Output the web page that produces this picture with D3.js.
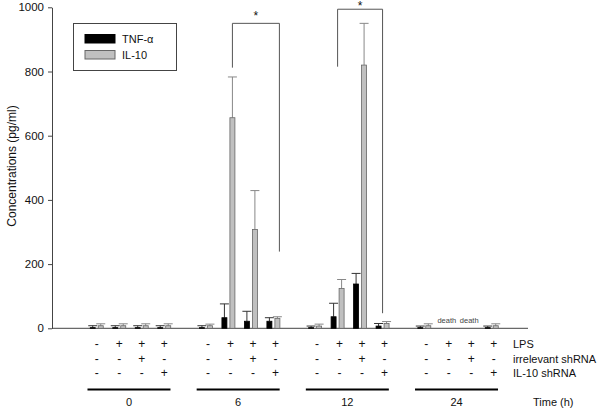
<!DOCTYPE html>
<html><head><meta charset="utf-8">
<script src="https://cdn.jsdelivr.net/npm/d3@7"></script>
<style>body{margin:0;background:#fff}svg{font-family:"Liberation Sans",Arial,sans-serif}</style>
</head><body><svg id="c" width="600" height="410"></svg>
<script>
const groups = ["0", "6", "12", "24"];
const subs = [0, 1, 2, 3];
const rowLabels = ["LPS", "irrelevant shRNA", "IL-10 shRNA"];
const lpsSigns = ["-", "+", "+", "+"];
const irrSigns = ["-", "-", "+", "-"];
const il10Signs = ["-", "-", "-", "+"];
const tnf     = [[2, 2, 2, 2], [2, 33, 22, 22], [2, 36, 138, 7], [2, null, null, 2]];
const tnfErr  = [[6, 6, 6, 6], [6, 43, 31, 11], [5, 42, 33, 8], [5, null, null, 5]];
const il10    = [[8, 8, 8, 8], [8, 656, 308, 31], [7, 124, 820, 15], [8, null, null, 8]];
const il10Err = [[6, 6, 6, 6], [5, 127, 121, 5], [6, 28, 130, 6], [6, null, null, 6]];
const deathLabel = "death";
const yTicks = [0, 200, 400, 600, 800, 1000];
const brackets = [
  {g: 1, from: 1, to: 3, top: 950, leftEnd: 812, rightEnd: 239, star: 981, anchor: "il10"},
  {g: 2, from: 1, to: 3, top: 994, leftEnd: 815, rightEnd: 47, star: 1012, anchor: "pair"}
];

const svg = d3.select("#c");
const y = d3.scaleLinear().domain([0, 1000]).range([328.3, 7.3]);
const xg = d3.scaleBand().domain(groups).range([85.5, 503]).paddingInner(0.176).paddingOuter(0);
const xs = d3.scaleBand().domain(subs).range([0, xg.bandwidth()]);
const pc = (gi, si) => xg(groups[gi]) + xs(si) + xs.bandwidth() / 2;
const barW = 5;
const off = 4;

// y axis
const ax = svg.append("g").attr("transform", "translate(52,0)")
  .call(d3.axisLeft(y).tickValues(yTicks).tickFormat(d3.format("d")).tickSize(4).tickSizeOuter(0).tickPadding(4));
ax.selectAll("text").attr("font-size", 11.5).attr("fill", "#111").style("font-family", "'Liberation Sans',Arial,sans-serif");
ax.selectAll("line,path").attr("stroke", "#444");
svg.append("line").attr("x1", 52).attr("x2", 528).attr("y1", y(0)).attr("y2", y(0)).attr("stroke", "#444");
svg.append("text").attr("transform", `translate(16,${166}) rotate(-90)`).attr("text-anchor", "middle")
  .attr("font-size", 12).attr("fill", "#111").text("Concentrations (pg/ml)");

// bars
const bars = [];
groups.forEach((g, gi) => subs.forEach(si => {
  bars.push({gi, si, key: "tnf", v: tnf[gi][si], e: tnfErr[gi][si]});
  bars.push({gi, si, key: "il10", v: il10[gi][si], e: il10Err[gi][si]});
}));
const bx = d => pc(d.gi, d.si) + (d.key === "tnf" ? -off : off);
const valid = bars.filter(d => d.v != null);
// error bars
const eb = svg.append("g");
valid.forEach(d => {
  const c = d.key === "tnf" ? "#333" : "#888";
  eb.append("line").attr("x1", bx(d)).attr("x2", bx(d)).attr("y1", y(d.v)).attr("y2", y(d.v + d.e)).attr("stroke", c);
  eb.append("line").attr("x1", bx(d) - 4.5).attr("x2", bx(d) + 4.5).attr("y1", y(d.v + d.e)).attr("y2", y(d.v + d.e)).attr("stroke", c);
});
svg.append("g").selectAll("rect").data(valid).join("rect")
  .attr("x", d => bx(d) - barW / 2).attr("width", barW)
  .attr("y", d => y(d.v)).attr("height", d => y(0) - y(d.v))
  .attr("fill", d => d.key === "tnf" ? "#000" : "#c0c0c0")
  .attr("stroke", d => d.key === "tnf" ? "#000" : "#666").attr("stroke-width", 0.8);

// death labels
groups.forEach((g, gi) => subs.forEach(si => {
  if (tnf[gi][si] == null) {
    svg.append("text").attr("x", pc(gi, si)).attr("y", y(0) - 5).attr("text-anchor", "middle")
      .attr("font-size", 7.5).attr("fill", "#444").text(deathLabel);
  }
}));

// brackets
brackets.forEach(b => {
  const xf = b.anchor === "il10" ? pc(b.g, b.from) + off : pc(b.g, b.from);
  const xt = b.anchor === "il10" ? pc(b.g, b.to) + off + 2 : pc(b.g, b.to);
  svg.append("path").attr("d", `M${xf},${y(b.leftEnd)}V${y(b.top)}H${xt}V${y(b.rightEnd)}`)
    .attr("fill", "none").attr("stroke", "#555");
  svg.append("text").attr("x", (xf + xt) / 2).attr("y", y(b.star) + 7).attr("text-anchor", "middle")
    .attr("font-size", 12).attr("fill", "#111").text("*");
});

// legend
const lg = svg.append("g");
lg.append("rect").attr("x", 73.5).attr("y", 23.5).attr("width", 103).attr("height", 47).attr("fill", "#fff").attr("stroke", "#444");
[["TNF-α", "#000", "#000"], ["IL-10", "#c0c0c0", "#666"]].forEach((l, i) => {
  lg.append("rect").attr("x", 85).attr("y", 34.5 + i * 16).attr("width", 30).attr("height", 8.5).attr("fill", l[1]).attr("stroke", l[2]);
  lg.append("text").attr("x", 122).attr("y", 43 + i * 16).attr("font-size", 11).attr("fill", "#111").text(l[0]);
});

// condition rows
const rowsSigns = [lpsSigns, irrSigns, il10Signs];
const rowY = [343.5, 358.5, 372.5];
rowsSigns.forEach((signs, ri) => {
  groups.forEach((g, gi) => subs.forEach(si => {
    svg.append("text").attr("x", pc(gi, si) + (gi === 0 ? 0 : 2)).attr("y", rowY[ri] + 4.5).attr("text-anchor", "middle")
      .attr("font-size", 12).attr("fill", "#111").text(signs[si]);
  }));
  svg.append("text").attr("x", 513).attr("y", rowY[ri] + 4).attr("font-size", 11).attr("fill", "#111").text(rowLabels[ri]);
});
groups.forEach(g => {
  const c = xg(g) + xg.bandwidth() / 2 - 1.5;
  svg.append("line").attr("x1", c - 41.5).attr("x2", c + 41.5).attr("y1", 389.5).attr("y2", 389.5).attr("stroke", "#000").attr("stroke-width", 2.2);
  svg.append("text").attr("x", c).attr("y", 406).attr("text-anchor", "middle").attr("font-size", 11).attr("fill", "#111").text(g);
});
svg.append("text").attr("x", 533).attr("y", 406).attr("font-size", 11).attr("fill", "#111").text("Time (h)");
</script></body></html>
